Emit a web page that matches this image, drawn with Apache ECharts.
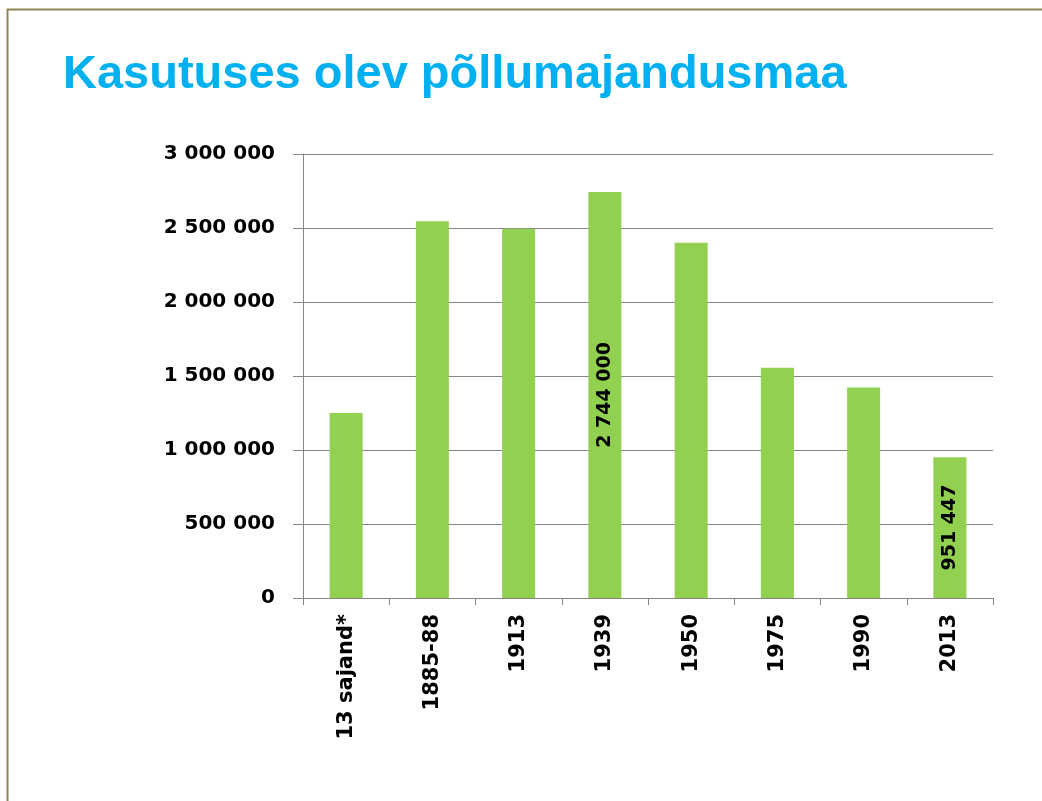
<!DOCTYPE html>
<html>
<head>
<meta charset="utf-8">
<script src="https://cdn.jsdelivr.net/npm/echarts@6/dist/echarts.min.js"></script>
<style>
    html, body { margin: 0; padding: 0; background: #fff; }
    #main { width: 1042px; height: 801px; }
</style>
</head>
<body>
<div id="main"></div>
<script>
// kasutuses olev põllumajandusmaa (ha)
const categories = ['13 sajand*', '1885-88', '1913', '1939', '1950', '1975', '1990', '2013'];
const areaValues = [1250000, 2545000, 2495000, 2744000, 2400000, 1555000, 1422000, 951447];
const labeledYears = ['1939', '2013'];   // ainult neil tulbadel on silt
const yMin = 0, yMax = 3000000, yStep = 500000;

function fmt(v) {
    return String(v).replace(/\B(?=(\d{3})+(?!\d))/g, ' ');
}

const chart = echarts.init(document.getElementById('main'), null, { renderer: 'canvas' });

let barData = [];
for (let i = 0; i < areaValues.length; i++) {
    let item = { value: areaValues[i] };
    if (labeledYears.indexOf(categories[i]) >= 0) {
        item.label = { show: true };
    }
    barData.push(item);
}

const axisGray = '#868686';

let option = {
    animation: false,
    backgroundColor: '#ffffff',
    title: {
        text: 'Kasutuses olev põllumajandusmaa',
        left: 58,
        top: 47,
        textStyle: {
            fontFamily: 'Liberation Sans',
            fontWeight: 'bold',
            fontSize: 47,
            color: '#00B0F0'
        }
    },
    graphic: [
        // slaidi raam
        { type: 'line', shape: { x1: 7, y1: 9.5, x2: 1042, y2: 9.5 }, style: { stroke: '#8c8654', lineWidth: 2 } },
        { type: 'line', shape: { x1: 7.5, y1: 9, x2: 7.5, y2: 801 }, style: { stroke: '#8c8654', lineWidth: 2 } }
    ],
    grid: {
        left: 303,
        right: 49,
        top: 154,
        bottom: 203,
        containLabel: false
    },
    xAxis: {
        type: 'category',
        data: categories,
        boundaryGap: true,
        axisLine: { lineStyle: { color: axisGray, width: 1 } },
        axisTick: { show: true, length: 7, lineStyle: { color: axisGray } },
        axisLabel: {
            interval: 0,
            rotate: 90,
            margin: 16,
            color: '#000',
            fontFamily: 'DejaVu Sans',
            fontWeight: 'bold',
            fontSize: 21
        }
    },
    yAxis: {
        type: 'value',
        min: yMin,
        max: yMax,
        interval: yStep,
        axisLine: { show: true, lineStyle: { color: axisGray, width: 1 } },
        axisTick: { show: true, length: 10, lineStyle: { color: axisGray } },
        splitLine: { lineStyle: { color: axisGray, width: 1 } },
        axisLabel: {
            margin: 28,
            color: '#000',
            fontFamily: 'DejaVu Sans',
            fontWeight: 'bold',
            fontSize: 20,
            formatter: fmt
        }
    },
    series: [
        {
            type: 'bar',
            barWidth: 33,
            itemStyle: { color: '#92D050' },
            label: {
                show: false,
                position: 'inside',
                rotate: 90,
                color: '#000',
                fontFamily: 'DejaVu Sans',
                fontWeight: 'bold',
                fontSize: 19,
                formatter: function (p) { return fmt(p.value); }
            },
            data: barData
        }
    ]
};

chart.setOption(option);
</script>
</body>
</html>
